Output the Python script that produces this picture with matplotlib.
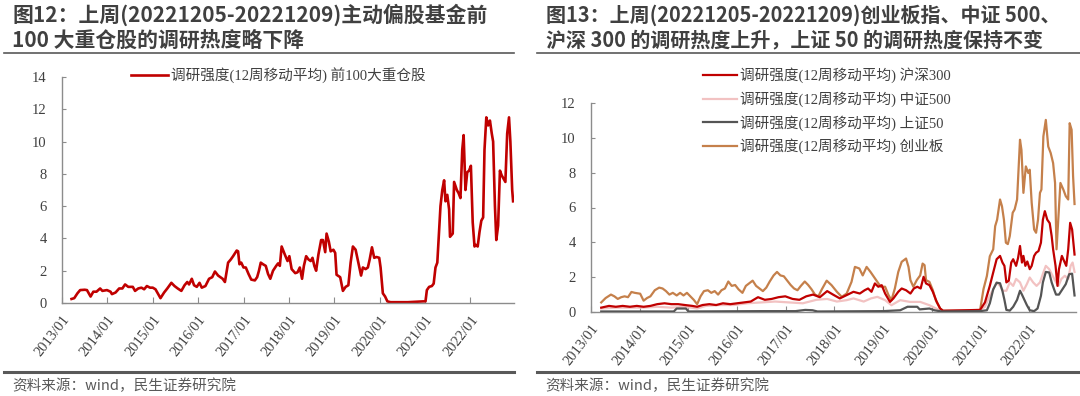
import matplotlib
matplotlib.use("Agg")
import matplotlib.pyplot as plt
from matplotlib.lines import Line2D

# ---------------- data: left chart (前100大重仓股) ----------------
left_x = [2013.21, 2013.27, 2013.34, 2013.40, 2013.50, 2013.55, 2013.59, 2013.63, 2013.69, 2013.76,
          2013.84, 2013.89, 2013.99, 2014.07, 2014.10, 2014.18, 2014.26, 2014.33, 2014.39, 2014.46,
          2014.56, 2014.61, 2014.68, 2014.75, 2014.81, 2014.87, 2014.94, 2015.00, 2015.06, 2015.12,
          2015.17, 2015.25, 2015.32, 2015.41, 2015.48, 2015.55, 2015.63, 2015.70, 2015.76, 2015.80,
          2015.86, 2015.91, 2015.97, 2016.03, 2016.08, 2016.16, 2016.24, 2016.31, 2016.37, 2016.44,
          2016.54, 2016.59, 2016.66, 2016.72, 2016.77, 2016.85, 2016.88, 2016.91, 2016.95, 2017.00,
          2017.05, 2017.11, 2017.17, 2017.25, 2017.30, 2017.34, 2017.38, 2017.43, 2017.49, 2017.54,
          2017.59, 2017.65, 2017.72, 2017.76, 2017.80, 2017.84, 2017.91, 2017.97, 2018.01, 2018.06,
          2018.14, 2018.19, 2018.24, 2018.29, 2018.33, 2018.38, 2018.43, 2018.48, 2018.52, 2018.56,
          2018.60, 2018.65, 2018.71, 2018.75, 2018.80, 2018.83, 2018.88, 2018.92, 2018.98, 2019.02,
          2019.05, 2019.13, 2019.19, 2019.25, 2019.31, 2019.36, 2019.41, 2019.47, 2019.53, 2019.59,
          2019.63, 2019.69, 2019.74, 2019.78, 2019.83, 2019.88, 2019.93, 2019.99, 2020.02, 2020.07,
          2020.12, 2020.17, 2020.24, 2020.62, 2020.96, 2021.01, 2021.04, 2021.09, 2021.15, 2021.19,
          2021.23, 2021.27, 2021.30, 2021.34, 2021.38, 2021.42, 2021.45, 2021.49, 2021.53, 2021.55,
          2021.61, 2021.64, 2021.70, 2021.74, 2021.78, 2021.82, 2021.85, 2021.89, 2021.93, 2021.97,
          2022.01, 2022.05, 2022.09, 2022.12, 2022.16, 2022.20, 2022.24, 2022.28, 2022.31, 2022.35,
          2022.39, 2022.43, 2022.47, 2022.50, 2022.54, 2022.57, 2022.61, 2022.65, 2022.69, 2022.73,
          2022.77, 2022.81, 2022.85, 2022.88, 2022.92, 2022.94]
left_top100 = [0.25, 0.3, 0.6, 0.8, 0.82, 0.8, 0.6, 0.4, 0.7, 0.7,
               0.9, 0.75, 0.8, 0.7, 0.55, 0.65, 0.9, 0.9, 1.15, 1.0,
               1.0, 0.75, 0.9, 0.95, 0.85, 1.05, 0.95, 0.95, 0.85, 0.55,
               0.3, 0.65, 0.9, 1.25, 1.05, 0.9, 0.75, 1.1, 1.3, 1.15,
               1.5, 1.1, 1.0, 1.25, 0.95, 1.05, 1.5, 1.6, 1.95, 1.7,
               1.5, 1.3, 2.5, 2.7, 2.9, 3.25, 3.2, 2.4, 2.5, 2.2,
               2.2, 1.8, 1.45, 1.4, 1.6, 2.0, 2.5, 2.4, 2.3, 1.8,
               1.5, 2.0, 2.3, 2.45, 2.3, 3.5, 3.0, 2.6, 2.9, 2.1,
               1.85, 1.9, 2.2, 1.5, 2.3, 2.9, 2.7, 2.6, 2.8, 2.3,
               2.0, 3.0, 3.9, 3.9, 3.15, 4.3, 3.8, 3.2, 3.3, 3.1,
               1.75, 1.6, 0.75, 1.0, 1.1, 2.5, 3.5, 3.3, 2.5, 1.7,
               2.2, 2.1, 2.2, 2.7, 3.45, 2.8, 2.85, 2.8, 2.2, 0.6,
               0.4, 0.1, 0.05, 0.05, 0.1, 0.1, 0.8, 1.0, 1.05, 1.2,
               2.2, 2.5, 4.0, 6.0, 7.0, 7.6, 6.3, 6.7, 5.8, 4.1,
               4.3, 7.5, 7.0, 6.8, 6.5, 9.5, 10.4, 7.0, 8.1, 8.2,
               8.5, 5.0, 3.5, 3.6, 3.5, 4.4, 5.1, 5.3, 9.5, 11.5,
               11.0, 11.3, 10.5, 10.0, 6.0, 3.9, 4.8, 8.2, 7.9, 7.7,
               7.5, 10.5, 11.5, 10.0, 7.0, 6.3]

# ---------------- data: right chart ----------------
cyb_x = [2013.21, 2013.30, 2013.41, 2013.48, 2013.55, 2013.62, 2013.69, 2013.76, 2013.83, 2013.90,
         2014.01, 2014.08, 2014.15, 2014.22, 2014.31, 2014.40, 2014.47, 2014.54, 2014.61, 2014.68,
         2014.76, 2014.83, 2014.90, 2014.97, 2015.04, 2015.11, 2015.18, 2015.25, 2015.32, 2015.40,
         2015.47, 2015.54, 2015.61, 2015.68, 2015.75, 2015.82, 2015.89, 2015.96, 2016.03, 2016.11,
         2016.18, 2016.25, 2016.32, 2016.39, 2016.46, 2016.53, 2016.60, 2016.67, 2016.75, 2016.82,
         2016.89, 2016.96, 2017.03, 2017.10, 2017.17, 2017.24, 2017.31, 2017.39, 2017.46, 2017.53,
         2017.60, 2017.67, 2017.74, 2017.84, 2017.94, 2018.05, 2018.15, 2018.25, 2018.35, 2018.42,
         2018.51, 2018.58, 2018.66, 2018.74, 2018.81, 2018.88, 2018.95, 2019.04, 2019.11, 2019.17,
         2019.24, 2019.31, 2019.38, 2019.47, 2019.52, 2019.56, 2019.62, 2019.69, 2019.76, 2019.81,
         2019.85, 2019.88, 2019.95, 2020.02, 2020.08, 2020.17, 2020.23, 2020.99, 2021.06, 2021.13,
         2021.19, 2021.26, 2021.30, 2021.34, 2021.40, 2021.44, 2021.48, 2021.52, 2021.56, 2021.60,
         2021.66, 2021.70, 2021.75, 2021.81, 2021.84, 2021.88, 2021.93, 2021.98, 2022.01, 2022.05,
         2022.10, 2022.14, 2022.18, 2022.22, 2022.25, 2022.29, 2022.34, 2022.39, 2022.44, 2022.49,
         2022.53, 2022.56, 2022.60, 2022.64, 2022.70, 2022.75, 2022.80, 2022.83, 2022.87, 2022.90,
         2022.93]
cyb_vals = [0.55, 0.8, 1.0, 0.9, 0.75, 0.85, 0.9, 0.85, 1.15, 1.1,
            1.05, 0.65, 0.8, 0.9, 1.25, 1.4, 1.35, 1.2, 1.0, 1.1,
            0.95, 1.1, 0.95, 1.1, 0.9, 0.7, 0.45, 0.9, 1.2, 1.25,
            1.1, 1.2, 1.0, 1.25, 1.35, 1.75, 1.5, 1.55, 1.3, 1.1,
            1.5, 1.65, 1.8, 1.5, 1.35, 1.2, 1.4, 1.75, 2.1, 2.3,
            2.1, 2.05, 1.8, 1.55, 1.35, 1.25, 1.5, 1.75, 1.55, 1.3,
            1.0, 0.9, 1.3, 1.8, 1.54, 1.16, 0.87, 1.06, 1.73, 2.59,
            2.5, 2.1, 2.59, 2.3, 2.02, 1.73, 1.45, 1.45, 0.97, 0.68,
            1.35, 2.3, 2.88, 3.07, 2.59, 1.83, 1.45, 1.83, 2.1, 2.78,
            2.69, 1.83, 1.73, 1.25, 0.68, 0.2, 0.07, 0.1, 1.31, 2.07,
            3.2, 3.6, 4.93, 5.3, 6.46, 6.07, 5.3, 3.98, 3.9, 4.36,
            5.7, 5.89, 6.46, 9.89, 9.3, 6.84, 8.36, 7.98, 8.17, 6.27,
            4.74, 4.55, 5.3, 6.84, 7.03, 10.08, 11.03, 9.5, 9.13, 8.55,
            7.41, 3.6, 5.5, 7.41, 7.03, 6.65, 6.46, 10.84, 10.46, 7.8,
            6.2]

hs300_x = [2013.21, 2013.37, 2013.51, 2013.65, 2013.80, 2013.94, 2014.08, 2014.22, 2014.36, 2014.51,
           2014.65, 2014.79, 2014.93, 2015.08, 2015.18, 2015.29, 2015.43, 2015.57, 2015.71, 2015.86,
           2016.00, 2016.14, 2016.28, 2016.43, 2016.57, 2016.71, 2016.85, 2016.99, 2017.14, 2017.28,
           2017.42, 2017.56, 2017.70, 2017.85, 2017.97, 2018.11, 2018.25, 2018.39, 2018.52, 2018.62,
           2018.69, 2018.76, 2018.83, 2018.90, 2018.97, 2019.04, 2019.14, 2019.21, 2019.31, 2019.38,
           2019.47, 2019.56, 2019.63, 2019.70, 2019.77, 2019.83, 2019.88, 2019.95, 2020.02, 2020.10,
           2020.17, 2020.23, 2020.99, 2021.09, 2021.19, 2021.26, 2021.33, 2021.40, 2021.45, 2021.49,
           2021.53, 2021.58, 2021.63, 2021.67, 2021.73, 2021.77, 2021.81, 2021.85, 2021.88, 2021.92,
           2021.96, 2022.01, 2022.05, 2022.10, 2022.14, 2022.19, 2022.24, 2022.28, 2022.32, 2022.37,
           2022.42, 2022.46, 2022.49, 2022.54, 2022.58, 2022.61, 2022.67, 2022.72, 2022.76, 2022.80,
           2022.84, 2022.88, 2022.93]
hs300_vals = [0.25, 0.35, 0.3, 0.35, 0.3, 0.35, 0.3, 0.35, 0.45, 0.5,
              0.45, 0.45, 0.4, 0.35, 0.3, 0.4, 0.45, 0.4, 0.5, 0.45,
              0.5, 0.55, 0.6, 0.85, 0.7, 0.75, 0.85, 0.9, 0.75, 0.7,
              0.9, 1.0, 0.85, 1.2, 1.0, 0.78, 0.97, 1.16, 1.06, 1.25,
              1.35, 1.16, 1.64, 1.45, 1.54, 1.06, 0.58, 0.78, 1.16, 1.35,
              1.25, 1.06, 1.35, 1.45, 1.35, 2.02, 1.64, 1.54, 1.16, 0.58,
              0.2, 0.07, 0.12, 0.55, 1.5, 2.27, 3.03, 3.22, 2.84, 2.65,
              1.7, 1.8, 2.84, 3.03, 2.65, 3.1, 3.79, 2.84, 3.22, 2.65,
              2.9, 2.46, 2.65, 3.22, 3.4, 3.5, 3.98, 5.3, 5.79, 5.3,
              5.1, 4.36, 3.6, 2.65, 1.5, 2.46, 3.22, 2.9, 2.65, 3.6,
              5.12, 4.74, 3.3]

zz500_x = [2013.21, 2013.51, 2013.80, 2014.08, 2014.36, 2014.65, 2014.93, 2015.18, 2015.36, 2015.65,
           2015.93, 2016.21, 2016.50, 2016.78, 2017.07, 2017.35, 2017.63, 2017.85, 2018.05, 2018.25,
           2018.39, 2018.60, 2018.75, 2018.88, 2019.04, 2019.17, 2019.35, 2019.55, 2019.76, 2019.95,
           2020.05, 2020.17, 2020.23, 2020.99, 2021.09, 2021.19, 2021.26, 2021.33, 2021.40, 2021.46,
           2021.53, 2021.60, 2021.67, 2021.73, 2021.81, 2021.88, 2021.95, 2022.01, 2022.08, 2022.15,
           2022.22, 2022.29, 2022.34, 2022.41, 2022.48, 2022.55, 2022.60, 2022.66, 2022.73, 2022.80,
           2022.85, 2022.89, 2022.93]
zz500_vals = [0.2, 0.25, 0.25, 0.25, 0.3, 0.25, 0.3, 0.2, 0.35, 0.4,
              0.4, 0.5, 0.55, 0.6, 0.55, 0.5, 0.7, 0.75, 0.6, 0.68,
              0.78, 0.6, 0.78, 0.87, 0.68, 0.39, 0.68, 0.58, 0.58, 0.39,
              0.25, 0.1, 0.07, 0.12, 0.3, 0.93, 1.3, 1.7, 1.5, 1.22,
              1.22, 1.7, 1.5, 1.9, 1.7, 1.22, 1.6, 1.98, 1.7, 1.5,
              1.7, 2.27, 2.65, 2.46, 2.08, 1.7, 1.5, 1.9, 2.08, 1.9,
              2.65, 2.84, 2.3]

sz50_x = [2013.21, 2014.70, 2014.76, 2014.95, 2015.00, 2016.50, 2017.20, 2017.40, 2017.55, 2017.65,
          2019.00, 2019.35, 2019.50, 2019.70, 2019.75, 2019.95, 2020.05, 2020.20, 2020.99, 2021.13,
          2021.19, 2021.26, 2021.33, 2021.40, 2021.45, 2021.49, 2021.53, 2021.60, 2021.67, 2021.75,
          2021.81, 2021.85, 2021.90, 2021.95, 2022.01, 2022.10, 2022.17, 2022.24, 2022.28, 2022.34,
          2022.41, 2022.46, 2022.51, 2022.55, 2022.61, 2022.68, 2022.75, 2022.82, 2022.88, 2022.93]
sz50_vals = [0.03, 0.03, 0.2, 0.2, 0.03, 0.05, 0.05, 0.12, 0.1, 0.03,
             0.05, 0.1, 0.3, 0.3, 0.15, 0.2, 0.1, 0.03, 0.05, 0.1,
             0.5, 1.3, 1.68, 1.65, 1.2, 0.7, 0.12, 0.08, 0.3, 0.7,
             1.22, 1.0, 0.7, 0.4, 0.1, 0.05, 0.2, 0.93, 1.7, 2.3,
             2.27, 1.7, 1.3, 1.0, 1.0, 1.3, 1.6, 2.17, 2.2, 0.95]

year_ticks = [2013, 2014, 2015, 2016, 2017, 2018, 2019, 2020, 2021, 2022]
year_labels = ["2013/01", "2014/01", "2015/01", "2016/01", "2017/01",
               "2018/01", "2019/01", "2020/01", "2021/01", "2022/01"]

title_left = ["图12：上周(20221205-20221209)主动偏股基金前", "100 大重仓股的调研热度略下降"]
title_right = ["图13：上周(20221205-20221209)创业板指、中证 500、", "沪深 300 的调研热度上升，上证 50 的调研热度保持不变"]
source_text = "资料来源：wind，民生证券研究院"
label_prefix = "调研强度(12周移动平均) "

# ---------------- style ----------------
CJK = "Noto Sans CJK SC"
SERIF = ["Liberation Serif", CJK]
RED = "#C00000"
PINK = "#F2C2C2"
GRAY = "#555555"
BROWN = "#C5804B"
SPINE = "#8C8C8C"
TXT = "#404040"

W, H = 1080, 396
fig = plt.figure(figsize=(W / 100, H / 100), dpi=100)


def fx(px):
    return px / W


def fy(py):
    return 1 - py / H


def style_axes(ax, ymax):
    for s in ("top", "right"):
        ax.spines[s].set_visible(False)
    for s in ("left", "bottom"):
        ax.spines[s].set_color(SPINE)
        ax.spines[s].set_linewidth(1.0)
    ax.set_xlim(2013.0, 2022.96)
    ax.set_ylim(0, ymax)
    ax.set_yticks(range(0, ymax + 1, 2))
    ax.set_xticks(year_ticks)
    ax.set_xticklabels(year_labels, rotation=52, ha="right", va="top",
                       rotation_mode="anchor", family=SERIF, fontsize=10.5, color=TXT)
    for lab in ax.get_yticklabels():
        lab.set_family(SERIF)
        lab.set_fontsize(10.5)
        lab.set_color(TXT)
    ax.tick_params(axis="x", direction="in", length=4, color=SPINE, pad=7)
    ax.tick_params(axis="y", direction="in", length=3, color=SPINE, pad=11)


# left axes
axL = fig.add_axes([fx(62), fy(303), fx(514 - 62), (303 - 77) / H])
lL, = axL.plot(left_x, left_top100, color=RED, lw=1.9, solid_joinstyle="round")
style_axes(axL, 14)

# right axes
axR = fig.add_axes([fx(591), fy(312), fx(1076 - 591), (312 - 103) / H])
l1, = axR.plot(hs300_x, hs300_vals, color=RED, lw=1.6, zorder=4)
l2, = axR.plot(zz500_x, zz500_vals, color=PINK, lw=1.6, zorder=3)
l3, = axR.plot(sz50_x, sz50_vals, color=GRAY, lw=1.6, zorder=5)
l4, = axR.plot(cyb_x, cyb_vals, color=BROWN, lw=1.6, zorder=2)
style_axes(axR, 12)

# legends
legL = fig.legend([lL], [label_prefix + "前100大重仓股"], loc="center left",
                  bbox_to_anchor=(fx(124), fy(75)), frameon=False, borderpad=0,
                  handlelength=2.5, handletextpad=0.25,
                  prop={"family": SERIF, "size": 10.5})
for t in legL.get_texts():
    t.set_color(TXT)
legR = fig.legend([l1, l2, l3, l4],
                  [label_prefix + "沪深300", label_prefix + "中证500",
                   label_prefix + "上证50", label_prefix + "创业板"],
                  loc="upper left", bbox_to_anchor=(fx(696), fy(60)), frameon=False,
                  borderpad=0, handlelength=2.3, handletextpad=0.25, labelspacing=0.55,
                  prop={"family": SERIF, "size": 10.5})
for t in legR.get_texts():
    t.set_color(TXT)

# titles
for i, line in enumerate(title_left):
    fig.text(fx(12), fy(15 + 25 * i), line, fontsize=15, fontweight="bold",
             family=[CJK, "DejaVu Sans"], color=TXT, va="center", ha="left")
for i, line in enumerate(title_right):
    fig.text(fx(546), fy(15 + 25 * i), line, fontsize=14.4, fontweight="bold",
             family=[CJK, "DejaVu Sans"], color=TXT, va="center", ha="left")

# separator lines
for (x0, x1) in [(4, 514), (537, 1080)]:
    fig.add_artist(Line2D([fx(x0), fx(x1)], [fy(53), fy(53)], color="#595959", lw=1.2))
    fig.add_artist(Line2D([fx(x0), fx(x1)], [fy(372), fy(372)], color="#595959", lw=2.2))

# source notes
fig.text(fx(12), fy(386), source_text, fontsize=10.5, family=[CJK, "DejaVu Sans"],
         color="#595959", va="center", ha="left")
fig.text(fx(545), fy(386), source_text, fontsize=10.5, family=[CJK, "DejaVu Sans"],
         color="#595959", va="center", ha="left")

fig.savefig("out.png", dpi=100)
